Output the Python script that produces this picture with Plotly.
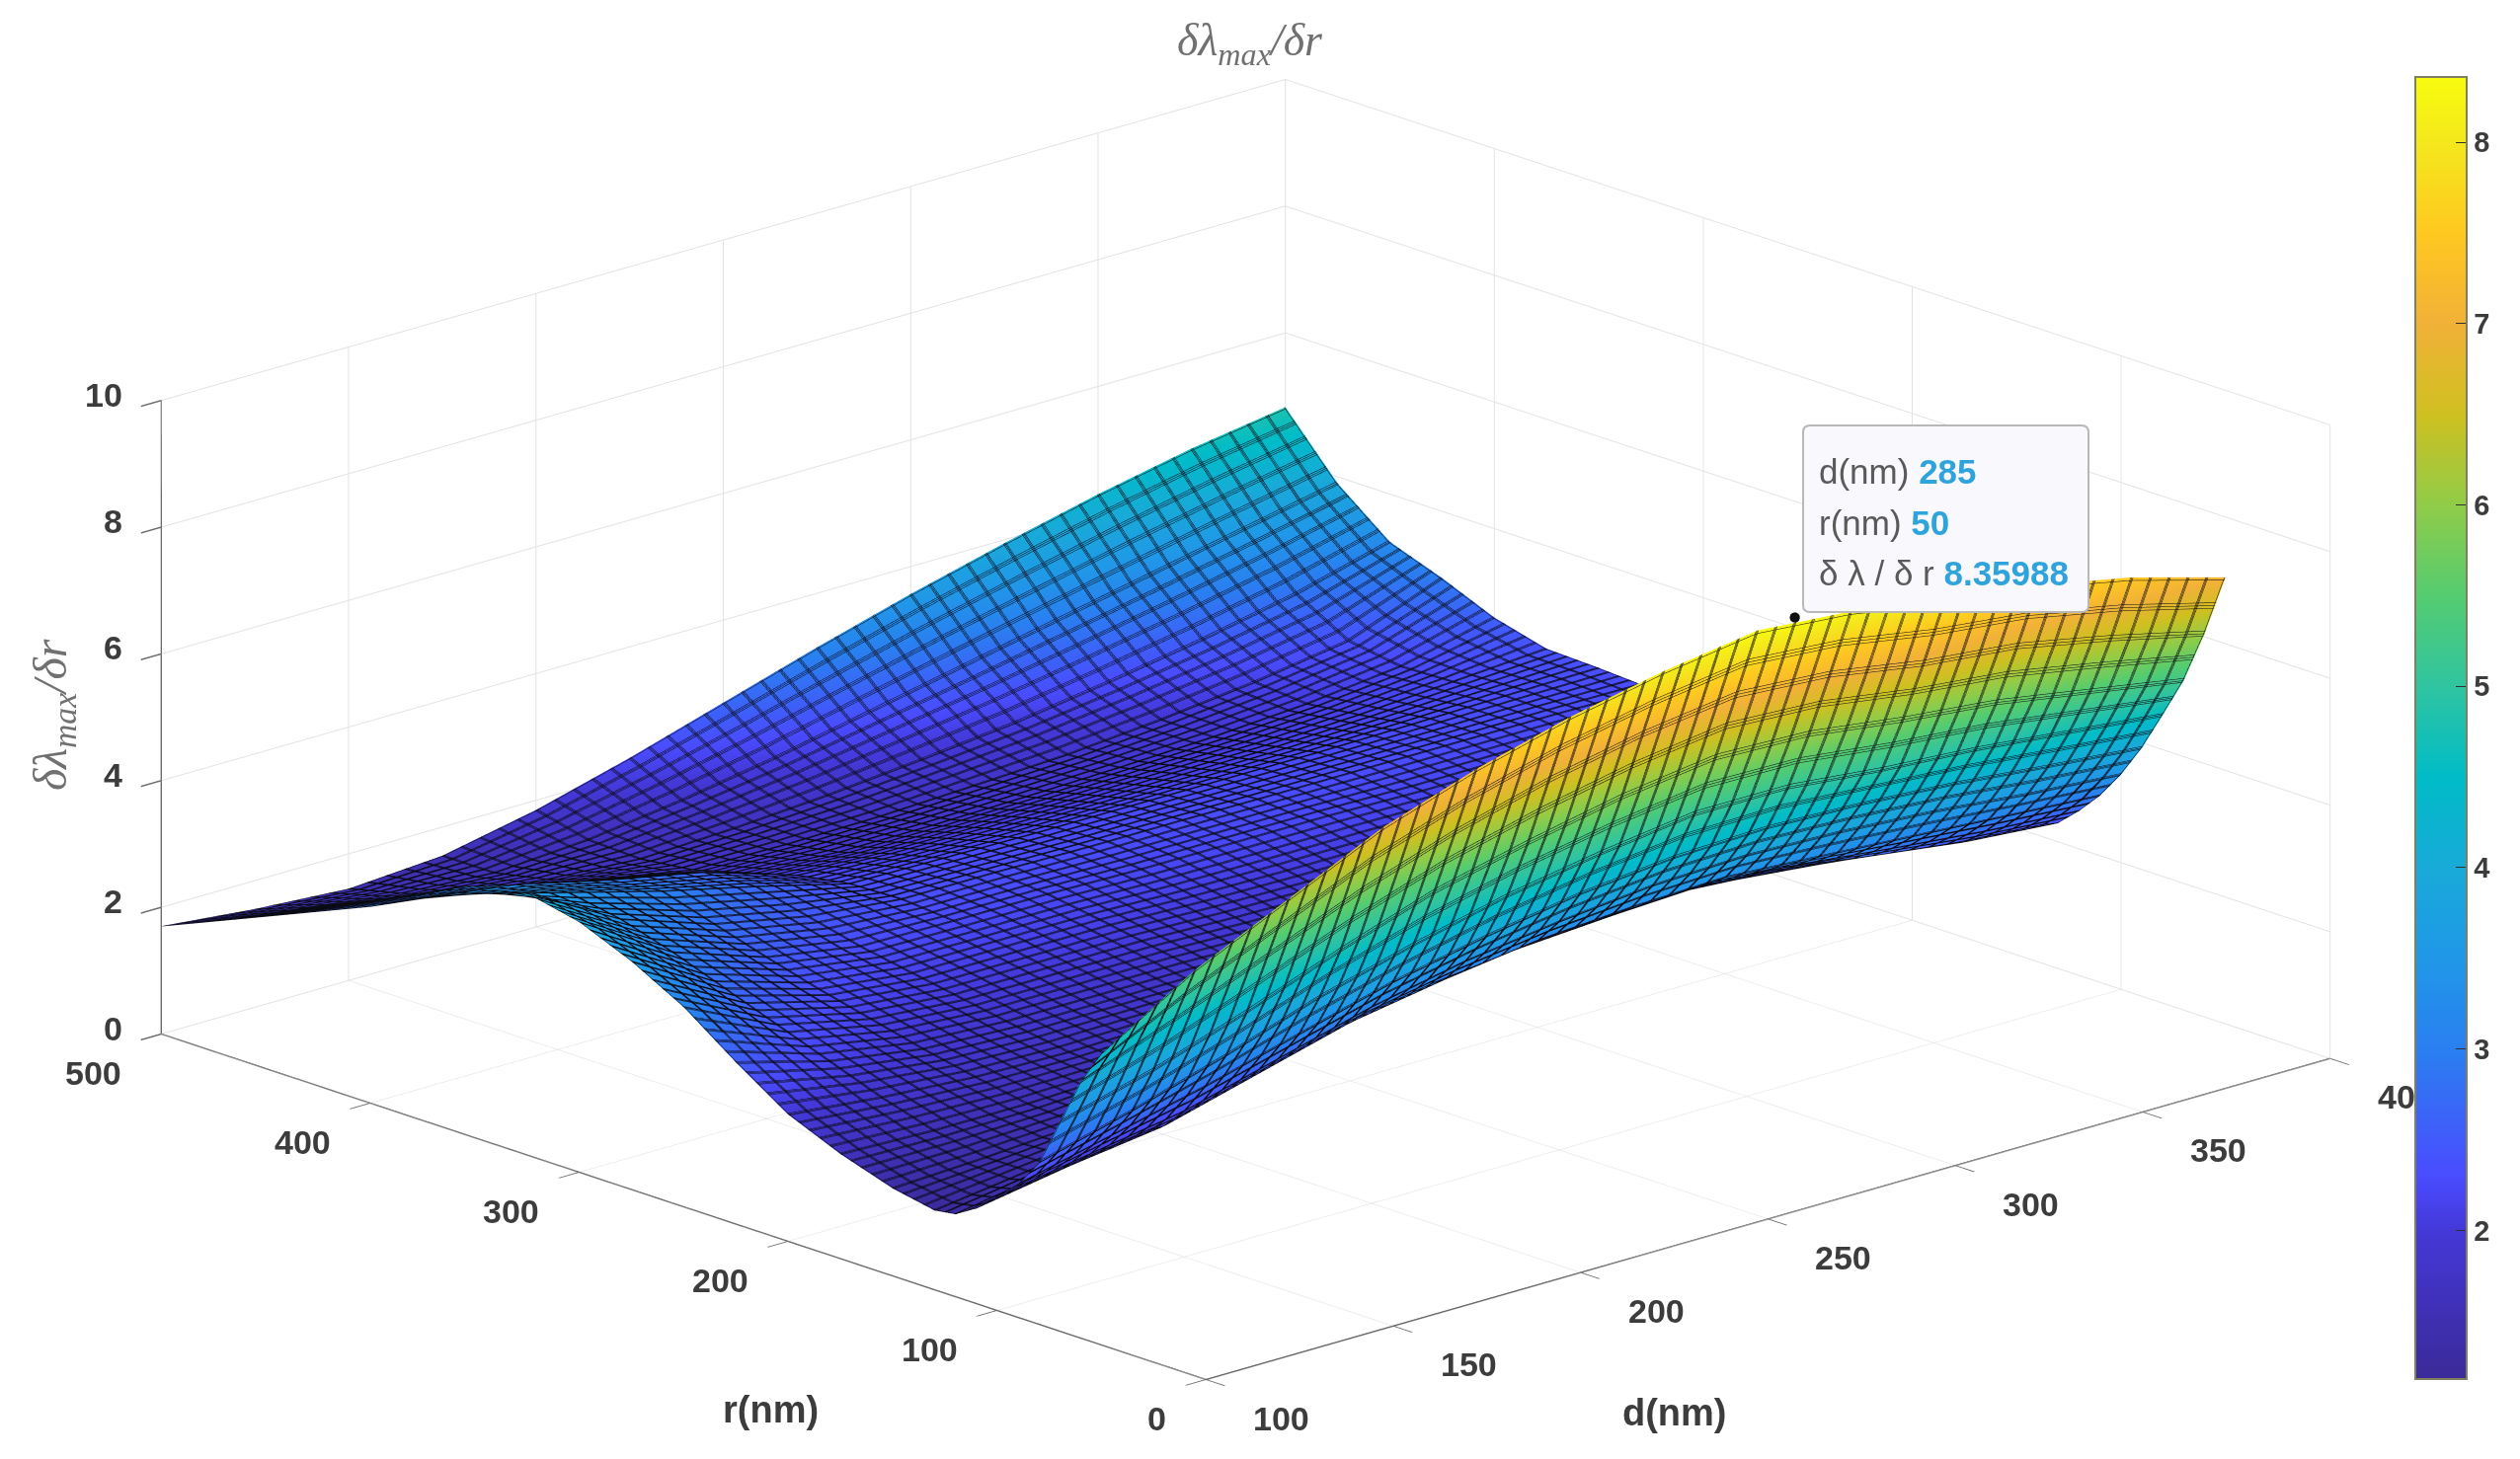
import plotly.graph_objects as go

d_values = [100, 125, 150, 175, 200, 225, 250, 275, 300, 325, 350, 375, 400]
r_values = [50, 60, 70, 80, 90, 100, 110, 120, 130, 150, 175, 200, 225, 250, 275, 300, 325, 350, 375, 400, 425, 450, 475, 500]
# each list runs over r_values for one value of d
z_d100 = [4.6, 4.05, 3.3, 2.55, 2.1, 1.8, 1.5, 1.3, 1.25, 1.38, 1.65, 2.0, 2.55, 3.15, 3.6, 3.95, 4.13, 3.85, 3.5, 3.1, 2.75, 2.4, 2.05, 1.7]
z_d125 = [5.5, 4.6, 3.7, 2.95, 2.45, 2.05, 1.75, 1.55, 1.45, 1.45, 1.6, 1.85, 2.15, 2.45, 2.75, 3.05, 3.3, 3.45, 3.3, 3.0, 2.6, 2.2, 1.85, 1.55]
z_d150 = [6.2, 5.2, 4.2, 3.4, 2.8, 2.3, 1.95, 1.75, 1.65, 1.55, 1.6, 1.75, 1.92, 2.12, 2.32, 2.55, 2.8, 3.05, 2.95, 2.6, 2.25, 1.9, 1.65, 1.45]
z_d175 = [6.9, 5.8, 4.75, 3.9, 3.2, 2.7, 2.35, 2.15, 2.0, 1.75, 1.65, 1.72, 1.85, 2.0, 2.15, 2.3, 2.5, 2.7, 2.65, 2.35, 2.0, 1.72, 1.55, 1.55]
z_d200 = [7.4, 6.3, 5.25, 4.3, 3.6, 3.1, 2.75, 2.55, 2.4, 2.0, 1.8, 1.75, 1.85, 2.0, 2.15, 2.28, 2.35, 2.32, 2.18, 1.95, 1.72, 1.62, 1.65, 1.85]
z_d225 = [7.8, 6.7, 5.6, 4.65, 3.9, 3.4, 3.0, 2.8, 2.65, 2.25, 1.95, 1.82, 1.85, 2.0, 2.15, 2.28, 2.35, 2.3, 2.1, 1.85, 1.7, 1.68, 1.85, 2.25]
z_d250 = [8.1, 7.0, 5.9, 4.9, 4.15, 3.6, 3.2, 2.95, 2.8, 2.4, 2.05, 1.85, 1.82, 1.95, 2.1, 2.25, 2.33, 2.28, 2.08, 1.85, 1.72, 1.78, 2.1, 2.7]
z_d275 = [8.32, 7.2, 6.1, 5.1, 4.3, 3.75, 3.3, 3.05, 2.92, 2.5, 2.1, 1.9, 1.82, 1.92, 2.08, 2.25, 2.33, 2.28, 2.08, 1.88, 1.78, 1.92, 2.4, 3.15]
z_d300 = [8.2, 7.1, 6.05, 5.1, 4.35, 3.8, 3.35, 3.12, 3.02, 2.55, 2.15, 1.95, 1.85, 1.92, 2.08, 2.25, 2.32, 2.28, 2.1, 1.92, 1.85, 2.08, 2.7, 3.57]
z_d325 = [7.94, 6.85, 5.85, 4.95, 4.3, 3.75, 3.25, 3.02, 2.85, 2.45, 2.1, 1.95, 1.85, 1.92, 2.08, 2.22, 2.32, 2.28, 2.12, 1.98, 1.98, 2.3, 3.0, 3.95]
z_d350 = [7.77, 6.7, 5.7, 4.85, 4.2, 3.65, 3.15, 2.85, 2.62, 2.3, 2.0, 1.92, 1.85, 1.92, 2.05, 2.22, 2.32, 2.3, 2.18, 2.08, 2.15, 2.55, 3.3, 4.3]
z_d375 = [7.47, 6.4, 5.45, 4.7, 4.05, 3.5, 3.05, 2.7, 2.42, 2.15, 1.95, 1.9, 1.88, 1.95, 2.05, 2.22, 2.32, 2.33, 2.28, 2.25, 2.38, 2.85, 3.6, 4.6]
z_d400 = [7.05, 6.05, 5.2, 4.55, 3.92, 3.39, 2.95, 2.6, 2.3, 2.05, 1.92, 1.9, 1.92, 2.0, 2.1, 2.2, 2.3, 2.35, 2.38, 2.6, 2.95, 3.25, 3.9, 4.83]
columns = [z_d100, z_d125, z_d150, z_d175, z_d200, z_d225, z_d250, z_d275, z_d300, z_d325, z_d350, z_d375, z_d400]
z_grid = [list(row) for row in zip(*columns)]

tip_d, tip_r, tip_z = [285], [50], [8.35988]

d_ticks = [100, 150, 200, 250, 300, 350, 400]
d_tick_text = ["100", "150", "200", "250", "300", "350", "40"]
r_ticks = [0, 100, 200, 300, 400, 500]
z_ticks = [0, 2, 4, 6, 8, 10]
bar_ticks = [2, 3, 4, 5, 6, 7, 8]

parula = [
    [0.000, "#3b2a98"], [0.114, "#4438d8"], [0.156, "#4a4cff"], [0.253, "#2a7ff0"],
    [0.323, "#2098e8"], [0.393, "#18aad8"], [0.462, "#00bcc8"], [0.532, "#30c4a0"],
    [0.602, "#55cc70"], [0.671, "#90cc48"], [0.741, "#cfc020"], [0.811, "#f2b138"],
    [0.880, "#ffc820"], [0.950, "#f4e81c"], [1.000, "#f8fb0e"],
]

INK = "#3c3c3c"
GRID = "#e2e2e2"
TICK = dict(family="Liberation Sans", size=34, color=INK, weight="bold")
MESH = "#0a0a14"

fig = go.Figure()
# The same surface is stacked with its mesh slightly offset: GL contour lines are one pixel wide.
for n, (dx, dy) in enumerate([(0, 0), (0.3, 0.5), (-0.3, -0.5)]):
    fig.add_trace(go.Surface(
        x=d_values, y=r_values, z=z_grid,
        colorscale=parula, cmin=1.18, cmax=8.36, showscale=(n == 0),
        lighting=dict(ambient=1, diffuse=0, specular=0, roughness=1, fresnel=0),
        hoverinfo="skip",
        contours=dict(
            x=dict(show=True, start=100 + dx, end=400, size=5, color=MESH, width=1, highlight=False),
            y=dict(show=True, start=50 + dy, end=500, size=5, color=MESH, width=1, highlight=False),
            z=dict(show=False, highlight=False),
        ),
        colorbar=dict(
            thicknessmode="pixels", thickness=52, lenmode="pixels", len=1319,
            xanchor="left", x=2446 / 2552, yanchor="bottom", y=81 / 1478, xpad=0, ypad=0,
            outlinecolor="#808060", outlinewidth=2, ticks="inside", ticklen=12, tickcolor="#303030",
            tickvals=bar_ticks, tickprefix=" ",
            tickfont=dict(family="Liberation Sans", size=29, color=INK, weight="bold"),
        ),
    ))
fig.add_trace(go.Scatter3d(
    x=tip_d, y=tip_r, z=tip_z, mode="markers",
    marker=dict(size=6, color="#101010"), hoverinfo="skip", showlegend=False,
))

def axis(rng, vals):
    return dict(
        range=rng, tickvals=vals, showticklabels=False, title=dict(text=""),
        showgrid=True, gridcolor=GRID, gridwidth=2,
        showbackground=False, zeroline=False, showline=True, linecolor="#6a6a6a", linewidth=3,
        ticks="outside", ticklen=28, tickcolor="#6a6a6a", tickwidth=3, showspikes=False,
    )

def tick_note(x, y, z, text, xanchor, xshift, yshift):
    return dict(x=x, y=y, z=z, text=text, showarrow=False, font=TICK,
                xanchor=xanchor, yanchor="middle", xshift=xshift, yshift=yshift)

scene_notes = (
    [tick_note(v, 0, 0, t, "left", 46, -39) for v, t in zip(d_ticks, d_tick_text)]
    + [tick_note(100, v, 0, str(v), "right", -38, -39) for v in r_ticks]
    + [tick_note(100, 500, v, str(v), "right", -37, 6) for v in z_ticks]
)

def paper_note(text, px, py, size, color, family="Liberation Sans", xanchor="center", angle=0):
    return dict(text=text, x=px / 2552, y=1 - py / 1478, xref="paper", yref="paper", showarrow=False,
                xanchor=xanchor, yanchor="middle", textangle=angle,
                font=dict(family=family, size=size, color=color))

VALUE = "<b><span style='color:#2fa3dc'>%s</span></b>"
D = 3.5
SCALE = 2.103
fig.update_layout(
    width=2552, height=1478, autosize=False, paper_bgcolor="white", showlegend=False,
    margin=dict(l=0, r=0, t=0, b=0),
    scene=dict(
        domain=dict(x=[0, 0.9886], y=[0, 1]),
        aspectmode="manual", aspectratio=dict(x=SCALE, y=SCALE, z=0.434 * SCALE),
        xaxis=axis([100, 400], d_ticks),
        yaxis=axis([0, 500], r_ticks),
        zaxis=axis([0, 10], z_ticks),
        annotations=scene_notes,
        camera=dict(
            projection=dict(type="orthographic"),
            up=dict(x=0, y=0, z=1), center=dict(x=0, y=0, z=0),
            eye=dict(x=-0.6477 * D, y=-0.6970 * D, z=0.3074 * D),
        ),
    ),
    annotations=[
        paper_note("<i>δλ<sub>max</sub>/δr</i>", 1266, 44, 46, "#707070", "Liberation Serif"),
        paper_note("<i>δλ<sub>max</sub>/δr</i>", 54, 724, 48, "#707070", "Liberation Serif", angle=-90),
        paper_note("<b>r(nm)</b>", 781, 1428, 38, INK),
        paper_note("<b>d(nm)</b>", 1696, 1431, 38, INK),
        paper_note("d(nm) " + VALUE % "285", 1840, 477, 35, "#5a5a5a", xanchor="left"),
        paper_note("r(nm) " + VALUE % "50", 1840, 529, 35, "#5a5a5a", xanchor="left"),
        paper_note("δ λ / δ r " + VALUE % "8.35988", 1840, 581, 35, "#5a5a5a", xanchor="left"),
    ],
    shapes=[dict(
        type="path", xref="paper", yref="paper", layer="above",
        path=("M {a} {t} L {b} {t} Q {B} {t} {B} {T} L {B} {c} Q {B} {e} {b} {e} L {a} {e} Q {A} {e} {A} {c} "
              "L {A} {T} Q {A} {t} {a} {t} Z").format(
            A=1826 / 2552, a=1833 / 2552, b=2108 / 2552, B=2115 / 2552,
            t=1 - 431 / 1478, T=1 - 438 / 1478, c=1 - 613 / 1478, e=1 - 620 / 1478),
        fillcolor="rgba(249,249,253,1)", line=dict(color="#b8b8b8", width=2),
    )],
)
fig.write_html("out.html", post_script="document.body.style.margin='0';", config={"displayModeBar": False})
